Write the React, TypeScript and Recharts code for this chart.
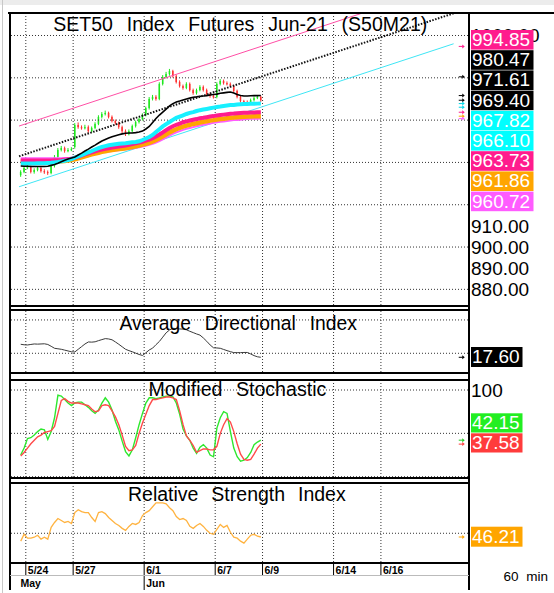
import React from 'react';
import { ComposedChart, Line, Bar, XAxis, YAxis, ReferenceLine, ReferenceDot } from 'recharts';

const FONT = '"Liberation Sans", Arial, sans-serif';

// ---------- 60-min bars (5/21 .. 6/8) ----------
const opens = [
  934.0, 935.5, 937.4, 937.8, 935.5, 936.4, 937.4, 935.9, 935.5, 935.0,
  938.3, 942.6, 945.9, 946.8, 945.4, 945.9, 947.3, 957.7, 956.7, 956.3,
  956.7, 954.8, 956.3, 958.2, 961.5, 962.9, 963.4, 961.5, 959.6, 958.6,
  956.7, 954.8, 953.4, 954.8, 957.2, 959.1, 960.5, 962.4, 965.7, 970.0,
  971.0, 970.0, 977.1, 980.4, 981.8, 983.2, 980.8, 978.0, 976.1, 975.2,
  977.1, 974.2, 972.8, 974.2, 975.7, 974.2, 972.3, 971.4, 971.0, 977.1,
  978.5, 977.5, 977.1, 976.1, 973.8, 971.0, 969.0, 968.6, 968.1, 969.5,
  970.4, 971.0,
];
const highs = [
  936.3, 938.2, 938.9, 938.5, 937.2, 938.3, 938.0, 936.8, 936.2, 939.0,
  943.5, 946.8, 947.8, 947.5, 946.8, 947.2, 958.6, 958.9, 957.5, 957.8,
  957.5, 957.0, 959.0, 962.3, 963.8, 964.5, 964.0, 962.2, 960.3, 959.3,
  957.4, 955.6, 955.6, 957.9, 959.8, 961.2, 963.2, 966.4, 970.9, 971.9,
  971.8, 977.9, 981.3, 982.8, 984.2, 983.8, 981.5, 978.8, 976.8, 977.9,
  977.8, 974.9, 974.9, 976.5, 976.4, 974.9, 972.9, 972.1, 977.9, 979.4,
  979.2, 978.3, 977.8, 976.7, 974.4, 971.7, 969.6, 969.3, 970.2, 971.2,
  971.7, 971.6,
];
const lows = [
  933.2, 934.9, 936.8, 934.8, 934.7, 935.8, 935.2, 934.6, 934.1, 934.4,
  937.6, 942.0, 945.2, 944.6, 944.8, 945.3, 946.5, 955.9, 955.5, 955.6,
  954.0, 954.1, 955.7, 957.6, 960.8, 962.2, 960.8, 958.9, 957.8, 955.9,
  953.9, 952.5, 952.8, 954.1, 956.5, 958.4, 959.8, 961.8, 965.0, 969.3,
  969.2, 969.4, 976.4, 979.7, 981.0, 980.1, 977.3, 975.4, 974.4, 974.6,
  973.5, 972.0, 972.1, 973.6, 973.5, 971.6, 970.6, 970.2, 970.3, 976.4,
  976.8, 976.4, 975.4, 973.1, 970.3, 968.3, 967.4, 967.3, 967.4, 968.8,
  969.9, 968.6,
];
const closes = [
  935.5, 937.4, 937.8, 935.5, 936.4, 937.4, 935.9, 935.5, 935.0, 938.3,
  942.6, 945.9, 946.8, 945.4, 945.9, 946.3, 957.7, 956.7, 956.3, 956.7,
  954.8, 956.3, 958.2, 961.5, 962.9, 963.4, 961.5, 959.6, 958.6, 956.7,
  954.8, 953.4, 954.8, 957.2, 959.1, 960.5, 962.4, 965.7, 970.0, 971.0,
  970.0, 977.1, 980.4, 981.8, 983.2, 980.8, 978.0, 976.1, 975.2, 977.1,
  974.2, 972.8, 974.2, 975.7, 974.2, 972.3, 971.4, 971.0, 977.1, 978.5,
  977.5, 977.1, 976.1, 973.8, 971.0, 969.0, 968.1, 968.1, 969.5, 970.4,
  971.0, 969.4,
];

// ---------- moving averages ----------
const maBlack = [
  938.3, 938.2, 938.2, 938.1, 938.1, 938.1, 938.1, 938.1, 938.2, 938.6,
  939.0, 939.6, 940.3, 941.0, 941.6, 942.1, 942.6, 943.5, 944.4, 945.4,
  946.3, 947.3, 948.2, 949.2, 950.1, 950.8, 951.5, 952.1, 952.6, 953.1,
  953.5, 953.8, 953.9, 953.9, 954.1, 954.4, 954.8, 955.8, 957.0, 958.9,
  960.8, 962.4, 963.8, 965.2, 966.7, 967.8, 968.6, 969.0, 969.5, 970.0,
  970.4, 970.8, 971.0, 971.3, 971.4, 971.6, 971.9, 972.1, 972.3, 972.7,
  972.9, 973.1, 973.3, 972.8, 972.1, 971.6, 971.4, 971.4, 971.5, 971.6,
  971.6, 971.61,
];
const maCyan = [
  939.5, 939.5, 939.5, 939.5, 939.5, 939.6, 939.6, 939.6, 939.7, 939.8,
  940.0, 940.2, 940.5, 940.8, 941.1, 941.6, 942.3, 942.9, 943.5, 944.1,
  944.8, 945.4, 946.1, 946.8, 947.3, 947.7, 948.1, 948.4, 948.6, 948.8,
  949.0, 949.1, 949.3, 949.5, 949.7, 950.0, 950.6, 951.3, 952.0, 953.0,
  954.4, 955.7, 957.0, 958.1, 959.1, 960.1, 961.1, 961.7, 962.3, 962.9,
  963.4, 963.8, 964.3, 964.7, 965.0, 965.3, 965.6, 965.9, 966.2, 966.4,
  966.7, 966.9, 967.1, 967.2, 967.4, 967.5, 967.6, 967.6, 967.7, 967.7,
  967.8, 967.82,
];
const maPink = [
  940.9, 940.9, 940.9, 940.9, 940.9, 940.9, 940.9, 940.9, 940.9, 940.9,
  941.0, 941.0, 941.1, 941.3, 941.5, 941.7, 942.2, 942.6, 943.2, 943.8,
  944.3, 944.8, 945.3, 945.7, 946.1, 946.4, 946.7, 947.0, 947.3, 947.5,
  947.8, 948.0, 948.3, 948.7, 949.0, 949.4, 949.8, 950.3, 950.8, 951.5,
  952.3, 953.2, 954.2, 955.3, 956.3, 957.1, 957.8, 958.4, 959.0, 959.4,
  959.8, 960.2, 960.5, 960.9, 961.1, 961.4, 961.7, 961.9, 962.2, 962.4,
  962.6, 962.8, 963.0, 963.1, 963.3, 963.4, 963.5, 963.5, 963.6, 963.6,
  963.7, 963.73,
];
const maOrange = [
  940.4, 940.4, 940.4, 940.4, 940.4, 940.4, 940.4, 940.4, 940.4, 940.4,
  940.5, 940.5, 940.6, 940.7, 940.9, 941.1, 941.5, 941.9, 942.4, 942.9,
  943.4, 943.8, 944.2, 944.6, 945.0, 945.3, 945.6, 945.9, 946.1, 946.3,
  946.5, 946.7, 947.0, 947.3, 947.6, 948.0, 948.4, 948.8, 949.3, 949.9,
  950.6, 951.4, 952.3, 953.3, 954.2, 955.0, 955.7, 956.3, 956.9, 957.4,
  957.8, 958.2, 958.5, 958.9, 959.2, 959.5, 959.8, 960.0, 960.3, 960.5,
  960.7, 960.9, 961.1, 961.2, 961.4, 961.5, 961.6, 961.7, 961.7, 961.8,
  961.8, 961.86,
];
const maViolet = [
  942.0, 942.0, 942.0, 942.0, 942.0, 942.0, 942.0, 942.0, 942.0, 942.0,
  942.0, 942.0, 942.0, 942.1, 942.1, 942.2, 942.4, 942.6, 942.9, 943.2,
  943.5, 943.8, 944.1, 944.4, 944.7, 945.0, 945.2, 945.4, 945.6, 945.8,
  946.0, 946.2, 946.4, 946.6, 946.9, 947.2, 947.5, 947.9, 948.3, 948.8,
  949.4, 950.1, 950.9, 951.8, 952.7, 953.5, 954.2, 954.8, 955.4, 955.9,
  956.3, 956.7, 957.1, 957.5, 957.8, 958.1, 958.4, 958.7, 959.0, 959.2,
  959.4, 959.6, 959.8, 960.0, 960.1, 960.2, 960.4, 960.5, 960.6, 960.6,
  960.7, 960.72,
];

// ---------- channel / trend lines (bar index, value) ----------
const channelUpper = [{ i: -0.5, v: 957.2 }, { i: 128, v: 1024.8 }];
const channelMid = [{ i: -0.5, v: 942.9 }, { i: 128, v: 1010.5 }];
const channelLower = [{ i: -0.5, v: 928.5 }, { i: 128, v: 996.1 }];

// ---------- indicators ----------
const adx = [
  25.4, 25.1, 25.0, 25.3, 25.6, 25.5, 25.6, 25.7, 25.3, 24.2,
  23.0, 22.7, 22.4, 21.9, 21.4, 20.9, 20.8, 22.4, 24.0, 25.6,
  26.8, 26.7, 26.9, 27.6, 28.2, 28.8, 28.6, 28.1, 26.8, 25.4,
  23.9, 22.4, 21.6, 20.9, 20.1, 19.3, 18.7, 20.3, 22.0, 23.1,
  25.2, 27.1, 29.7, 32.3, 34.0, 35.0, 34.8, 34.6, 34.5, 34.1,
  33.2, 32.4, 31.6, 30.9, 29.2, 27.2, 25.0, 23.3, 23.2, 23.0,
  22.3, 21.6, 21.0, 20.4, 20.4, 20.4, 20.5, 20.5, 19.6, 18.6,
  17.9, 17.6,
];
const stochK = [
  25, 33, 44, 45, 48, 52, 55, 54, 43, 52,
  68, 94, 93, 89, 85, 82, 85, 86, 86, 83,
  80, 76, 73, 77, 85, 91, 86, 77, 64, 54,
  41, 29, 24, 31, 45, 60, 73, 85, 91, 91,
  90, 91, 92, 93, 93, 92, 85, 72, 55, 47,
  42, 33, 27, 34, 37, 33, 25, 23, 56, 68,
  75, 73, 52, 33, 23, 18, 19, 22, 28, 37,
  40, 42.15,
];
const stochD = [
  24, 28, 33, 38, 42, 46, 48, 51, 52, 53,
  58, 73, 88, 90, 87, 85, 85, 85, 84, 83,
  82, 78, 75, 76, 82, 83, 82, 76, 69, 60,
  48, 35, 30, 31, 36, 50, 62, 72, 82, 89,
  89, 90, 91, 92, 92, 91, 89, 76, 60, 47,
  42, 36, 28, 30, 32, 32, 31, 31, 35, 50,
  60, 67, 63, 52, 38, 26, 20, 19, 20, 26,
  33, 37.58,
];
const rsi = [
  42, 49, 45, 45, 46, 48, 44, 46, 44, 56,
  61, 65, 63, 61, 62, 60, 71, 74, 72, 71,
  71, 66, 62, 71, 72, 70, 66, 63, 60, 58,
  55, 53, 57, 60, 59, 61, 68, 71, 73, 77,
  81, 81, 81, 80, 76, 73, 67, 64, 65, 63,
  57, 55, 58, 60, 57, 53, 50, 49, 54, 59,
  56, 58, 51, 46, 45, 42, 40, 44, 48, 49,
  47, 46.21,
];

// ---------- axes ----------
const dayTickVals = [1.5, 15.5, 36.5, 57.5, 71.5, 92.5, 106.5];
const dayTickLabels = ['5/24', '5/27', '6/1', '6/7', '6/9', '6/14', '6/16'];
const monthTickVals = [-2.876, 36.5];
const monthTickLabels = ['May', 'Jun'];
const X_DOMAIN: [number, number] = [-2.876, 132.25];
const MARKER_X = 130.4;

const priceGrid = [880, 900, 920, 940, 960, 980, 1000];
const priceTicks = [880, 890, 900, 910, 1000];
const priceMinor = [875, 880, 885, 890, 895, 900, 905, 910, 915, 920, 925, 930, 935, 940, 945, 950, 955, 960, 965, 970, 975, 980, 985, 990, 995, 1000, 1005];
const adxGrid = [20, 40];
const adxMinor = [10, 13.333, 16.667, 20, 23.333, 26.667, 30, 33.333, 36.667, 40, 43.333];
const stochGrid = [0, 50, 100];
const stochMinor = [10, 20, 30, 40, 50, 60, 70, 80, 90, 100];
const rsiGrid = [50];
const rsiMinor = [30, 40, 50, 60, 70, 80, 90];

// ---------- right-hand value tags ----------
const priceTags = [
  { v: 994.85, bg: '#ff1c8d', mk: '#ff1c8d' },
  { v: 980.47, bg: '#000000', mk: '#000000' },
  { v: 971.61, bg: '#000000', mk: '#000000' },
  { v: 969.40, bg: '#000000', mk: '#000000' },
  { v: 967.82, bg: '#00ffff', mk: '#00d8e8' },
  { v: 966.10, bg: '#00ffff', mk: '#00d8e8' },
  { v: 963.73, bg: '#ff1c8d', mk: '#ff1c8d' },
  { v: 961.86, bg: '#ffa500', mk: '#ffa500' },
  { v: 960.72, bg: '#ff5cff', mk: '#ff5cff' },
];
const adxTag = { v: 17.6, bg: '#000000' };
const stochTags = [
  { v: 42.15, bg: '#22ee22' },
  { v: 37.58, bg: '#ff3c3c' },
];
const rsiTag = { v: 46.21, bg: '#ffa500' };

const rows = closes.map((c, i) => ({
  i,
  o: opens[i],
  h: highs[i],
  l: lows[i],
  c,
  maBlack: maBlack[i],
  maCyan: maCyan[i],
  maPink: maPink[i],
  maOrange: maOrange[i],
  maViolet: maViolet[i],
  adx: adx[i],
  k: stochK[i],
  d: stochD[i],
  rsi: rsi[i],
}));

const GRID = { stroke: '#333', strokeDasharray: '1 2', strokeWidth: 1 };
const MARGIN = { top: 0, right: 0, bottom: 0, left: 11 };
const W = 554;

function Candle(props: any) {
  const { x, y, width, height, payload } = props;
  if (!payload || x == null || y == null) return null;
  const { o, h, l, c } = payload;
  const top = Math.min(y, y + height);
  const hgt = Math.abs(height);
  const span = h - l || 1;
  const py = (v: number) => top + ((h - v) / span) * hgt;
  const up = c >= o;
  const col = up ? '#1ee81e' : '#ff3030';
  const cx = x + width / 2;
  const bt = py(Math.max(o, c));
  const bb = py(Math.min(o, c));
  return (
    <g>
      <line x1={cx} x2={cx} y1={top} y2={top + hgt} stroke={col} strokeWidth={1} />
      <rect x={x} y={bt} width={width} height={Math.max(1.2, bb - bt)} fill={col} />
    </g>
  );
}

function Arrow(color: string) {
  return (p: any) => {
    const { cx, cy } = p;
    if (cx == null || cy == null) return <g />;
    return (
      <g>
        <line x1={cx - 3} x2={cx + 1} y1={cy} y2={cy} stroke={color} strokeWidth={1} />
        <path d={`M${cx + 0.5},${cy - 2} L${cx + 3},${cy} L${cx + 0.5},${cy + 2} Z`} fill={color} />
      </g>
    );
  };
}

function DayTick(props: any) {
  const { x, y, payload } = props;
  const idx = dayTickVals.indexOf(payload.value);
  return (
    <g>
      <line x1={x} x2={x} y1={y} y2={y + 13} stroke="#000" strokeWidth={1} />
      <text x={x + 2} y={y + 11.5} fontSize={10.5} fontWeight="bold" fontFamily={FONT} fill="#000">
        {idx >= 0 ? dayTickLabels[idx] : ''}
      </text>
    </g>
  );
}

function MonthTick(props: any) {
  const { x, y, payload } = props;
  const idx = monthTickVals.indexOf(payload.value);
  const first = idx === 0;
  return (
    <g>
      {!first && <line x1={x} x2={x} y1={y} y2={y + 15} stroke="#000" strokeWidth={1} />}
      <text x={first ? x + 9.5 : x + 2} y={y + 11.5} fontSize={10.5} fontWeight="bold" fontFamily={FONT} fill="#000">
        {idx >= 0 ? monthTickLabels[idx] : ''}
      </text>
    </g>
  );
}

const vGrid = dayTickVals.map((v) => <ReferenceLine key={'vx' + v} x={v} {...GRID} />);

function Tag({ x, y, w, h, bg, text }: { x: number; y: number; w: number; h: number; bg: string; text: string }) {
  return (
    <g>
      <rect x={x} y={y} width={w} height={h} fill={bg} />
      <text x={x + 1} y={y + h - 3.6} fontSize={19} fontFamily={FONT} fill="#fff">{text}</text>
    </g>
  );
}

export default function App() {
  const PRICE_DOMAIN: [number, number] = [872.6, 1010.17];
  const ADX_DOMAIN: [number, number] = [8.78, 45.37];
  const STOCH_DOMAIN: [number, number] = [-0.35, 110.4];
  const RSI_DOMAIN: [number, number] = [20.8, 100.1];

  const tickStyle = { fontSize: 19, fill: '#000', fontFamily: FONT };

  return (
    <div style={{ position: 'absolute', left: 0, top: 0, width: W, height: 593, background: '#fff', overflow: 'hidden' }}>
      <div style={{ position: 'absolute', left: 0, top: 0, width: W, height: 5, background: '#ececec' }} />
      <div style={{ position: 'absolute', left: 2, top: 0, width: 1, height: 593, background: '#c8c8c8' }} />

      {/* PRICE PANEL */}
      <div style={{ position: 'absolute', left: 0, top: 14 }}>
        <ComposedChart width={W} height={291} data={rows} margin={MARGIN}>
          <XAxis type="number" dataKey="i" domain={X_DOMAIN} hide allowDataOverflow />
          <YAxis
            orientation="right"
            width={86}
            domain={PRICE_DOMAIN}
            ticks={priceTicks}
            interval={0}
            allowDataOverflow
            axisLine={false}
            tickLine={false}
            tickSize={3}
            tickMargin={0}
            tick={tickStyle}
            tickFormatter={(v: number) => v.toFixed(2)}
          />
          <YAxis yAxisId="l" orientation="left" mirror width={0} domain={PRICE_DOMAIN} ticks={priceMinor} interval={0} allowDataOverflow axisLine={false} tick={false} tickLine={{ stroke: '#000' }} tickSize={3} />
          {priceGrid.map((v) => <ReferenceLine key={'py' + v} y={v} {...GRID} />)}
          {vGrid}
          <Line data={channelLower} dataKey="v" stroke="#3fe6f5" strokeWidth={1} dot={false} isAnimationActive={false} />
          <Line dataKey="maViolet" stroke="#ff5cff" strokeWidth={2} dot={false} isAnimationActive={false} />
          <Line dataKey="maOrange" stroke="#ffa500" strokeWidth={4.5} dot={false} isAnimationActive={false} />
          <Line dataKey="maPink" stroke="#ff1c8d" strokeWidth={4} dot={false} isAnimationActive={false} />
          <Line dataKey="maCyan" stroke="#18f0ff" strokeWidth={4} dot={false} isAnimationActive={false} />
          <Bar dataKey={(d: any) => [d.l, d.h]} barSize={3} shape={(p: any) => <Candle {...p} />} isAnimationActive={false} />
          <Line dataKey="maBlack" stroke="#000" strokeWidth={1.6} dot={false} isAnimationActive={false} />
          <Line data={channelUpper} dataKey="v" stroke="#ff4fa6" strokeWidth={1} dot={false} isAnimationActive={false} />
          <Line data={channelMid} dataKey="v" stroke="#111" strokeWidth={2} strokeDasharray="1.5 1.5" dot={false} isAnimationActive={false} />
          {priceTags.map((t) => (
            <ReferenceDot key={'mk' + t.v} x={MARKER_X} y={t.v} r={0} ifOverflow="visible" shape={Arrow(t.mk)} />
          ))}
        </ComposedChart>
      </div>

      {/* ADX PANEL */}
      <div style={{ position: 'absolute', left: 0, top: 311 }}>
        <ComposedChart width={W} height={61} data={rows} margin={MARGIN}>
          <XAxis type="number" dataKey="i" domain={X_DOMAIN} hide allowDataOverflow />
          <YAxis orientation="right" width={86} domain={ADX_DOMAIN} ticks={[]} allowDataOverflow axisLine={false} tickLine={false} />
          <YAxis yAxisId="l" orientation="left" mirror width={0} domain={ADX_DOMAIN} ticks={adxMinor} interval={0} allowDataOverflow axisLine={false} tick={false} tickLine={{ stroke: '#000' }} tickSize={3} />
          {adxGrid.map((v) => <ReferenceLine key={'ay' + v} y={v} {...GRID} />)}
          {vGrid}
          <Line dataKey="adx" stroke="#3a3a3a" strokeWidth={1} dot={false} isAnimationActive={false} />
          <ReferenceDot x={MARKER_X} y={adxTag.v} r={0} ifOverflow="visible" shape={Arrow('#000')} />
        </ComposedChart>
      </div>

      {/* STOCHASTIC PANEL */}
      <div style={{ position: 'absolute', left: 0, top: 381 }}>
        <ComposedChart width={W} height={96} data={rows} margin={MARGIN}>
          <XAxis type="number" dataKey="i" domain={X_DOMAIN} hide allowDataOverflow />
          <YAxis
            orientation="right"
            width={86}
            domain={STOCH_DOMAIN}
            ticks={[100]}
            interval={0}
            allowDataOverflow
            axisLine={false}
            tickLine={false}
            tickSize={3}
            tickMargin={0}
            tick={tickStyle}
          />
          <YAxis yAxisId="l" orientation="left" mirror width={0} domain={STOCH_DOMAIN} ticks={stochMinor} interval={0} allowDataOverflow axisLine={false} tick={false} tickLine={{ stroke: '#000' }} tickSize={3} />
          {stochGrid.map((v) => <ReferenceLine key={'sy' + v} y={v} {...GRID} />)}
          {vGrid}
          <Line dataKey="k" stroke="#2ee82e" strokeWidth={1.4} dot={false} isAnimationActive={false} />
          <Line dataKey="d" stroke="#ff4a4a" strokeWidth={1.4} dot={false} isAnimationActive={false} />
          <ReferenceDot x={MARKER_X} y={stochTags[0].v} r={0} ifOverflow="visible" shape={Arrow('#22cc22')} />
          <ReferenceDot x={MARKER_X} y={stochTags[1].v} r={0} ifOverflow="visible" shape={Arrow('#ff3c3c')} />
        </ComposedChart>
      </div>

      {/* RSI PANEL + DATE AXIS */}
      <div style={{ position: 'absolute', left: 0, top: 484 }}>
        <ComposedChart width={W} height={106} data={rows} margin={MARGIN}>
          <XAxis
            type="number"
            dataKey="i"
            domain={X_DOMAIN}
            ticks={dayTickVals}
            interval={0}
            height={13}
            allowDataOverflow
            axisLine={false}
            tickLine={false}
            tickSize={0}
            tickMargin={0}
            tick={(p: any) => <DayTick {...p} />}
          />
          <XAxis
            xAxisId="m"
            type="number"
            dataKey="i"
            domain={X_DOMAIN}
            ticks={monthTickVals}
            interval={0}
            height={15}
            allowDataOverflow
            axisLine={false}
            tickLine={false}
            tickSize={0}
            tickMargin={0}
            tick={(p: any) => <MonthTick {...p} />}
          />
          <YAxis orientation="right" width={86} domain={RSI_DOMAIN} ticks={[]} allowDataOverflow axisLine={false} tickLine={false} />
          <YAxis yAxisId="l" orientation="left" mirror width={0} domain={RSI_DOMAIN} ticks={rsiMinor} interval={0} allowDataOverflow axisLine={false} tick={false} tickLine={{ stroke: '#000' }} tickSize={3} />
          {rsiGrid.map((v) => <ReferenceLine key={'ry' + v} y={v} {...GRID} />)}
          {vGrid}
          <Line dataKey="rsi" stroke="#ffb340" strokeWidth={1.3} dot={false} isAnimationActive={false} />
          <ReferenceDot x={MARKER_X} y={rsiTag.v} r={0} ifOverflow="visible" shape={Arrow('#ffa500')} />
        </ComposedChart>
      </div>

      {/* OVERLAY: frames, titles, value tags */}
      <svg width={W} height={593} style={{ position: 'absolute', left: 0, top: 0, pointerEvents: 'none' }}>
        <g stroke="#000" strokeWidth={2} fill="none">
          <line x1={8} x2={W} y1={13} y2={13} />
          <line x1={10} x2={10} y1={12} y2={590} />
          <line x1={469} x2={469} y1={12} y2={590} />
          <line x1={9} x2={470} y1={306} y2={306} />
          <line x1={9} x2={470} y1={310} y2={310} />
          <line x1={9} x2={470} y1={373} y2={373} />
          <line x1={9} x2={470} y1={380} y2={380} />
          <line x1={9} x2={470} y1={478} y2={478} />
          <line x1={9} x2={470} y1={483} y2={483} />
          <line x1={9} x2={470} y1={563} y2={563} />
        </g>
        <line x1={10} x2={469} y1={575.5} y2={575.5} stroke="#bbb" strokeWidth={1} />

        <g fontFamily={FONT} fill="#000">
          <text x={53.3} y={31} fontSize={19.5} style={{ wordSpacing: '8.4px' }}>SET50 Index Futures Jun-21 (S50M21)</text>
          <text x={119.4} y={330} fontSize={19.3} style={{ wordSpacing: '8.5px' }}>Average Directional Index</text>
          <text x={148.4} y={395.7} fontSize={19.6} style={{ wordSpacing: '8px' }}>Modified Stochastic</text>
          <text x={128} y={500.5} fontSize={19.5} style={{ wordSpacing: '7.5px' }}>Relative Strength Index</text>
          <text x={503.5} y={581} fontSize={13.5} style={{ wordSpacing: '4px' }}>60 min</text>
        </g>

        {priceTags.map((tag, k) => (
          <Tag key={tag.v} x={471} y={30 + k * 20.2} w={62.5} h={19.6} bg={tag.bg} text={tag.v.toFixed(2)} />
        ))}
        <Tag x={471} y={347} w={51.5} h={20} bg={adxTag.bg} text={adxTag.v.toFixed(2)} />
        <Tag x={471} y={413.3} w={51.5} h={19.2} bg={stochTags[0].bg} text={stochTags[0].v.toFixed(2)} />
        <Tag x={471} y={433.3} w={51.5} h={19.2} bg={stochTags[1].bg} text={stochTags[1].v.toFixed(2)} />
        <Tag x={471} y={526.7} w={51.5} h={20} bg={rsiTag.bg} text={rsiTag.v.toFixed(2)} />
      </svg>
    </div>
  );
}
